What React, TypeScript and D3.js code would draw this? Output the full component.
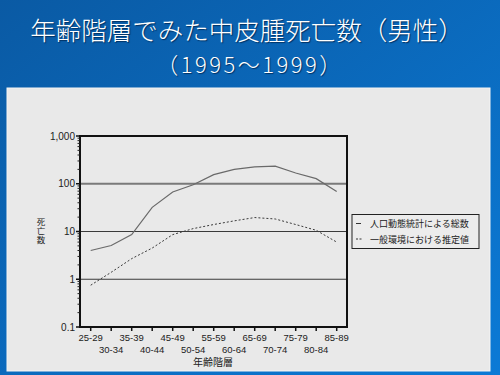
import React from "react";
import * as d3 from "d3";

const categories = ["25-29","30-34","35-39","40-44","45-49","50-54","55-59","60-64","65-69","70-74","75-79","80-84","85-89"];
const totalDeaths = [4.0, 5.1, 8.6, 32, 67, 95, 155, 200, 225, 233, 168, 128, 69];
const estimatedDeaths = [0.75, 1.4, 2.7, 4.5, 8.6, 11.5, 14, 16.7, 19.6, 18.3, 14, 10.6, 6.0];
const yTicks = [0.1, 1, 10, 100, 1000];
const yTickLabels = ["0.1", "1", "10", "100", "1,000"];
const legendLabels = ["人口動態統計による総数", "一般環境における推定値"];
const titleLines = ["年齢階層でみた中皮腫死亡数（男性）", "（1995～1999）"];
const xTitle = "年齢階層";
const yTitle = "死亡数";

const L = 80, R = 347, T = 136, B = 327;
const jp = "'Noto Sans CJK JP', 'Noto Sans', sans-serif";

export default function App() {
  const x = d3.scalePoint<string>().domain(categories).range([90.7, 336.7]);
  const y = d3.scaleLog().domain([0.1, 1000]).range([B, T]);
  const line = d3.line<number>().x((_, i) => x(categories[i])!).y(d => y(d));
  const minor: number[] = [];
  for (let e = -1; e < 3; e++) for (let k = 2; k <= 9; k++) minor.push(k * Math.pow(10, e));

  return (
    <svg width={500} height={375} style={{ position: "absolute", left: 0, top: 0, display: "block" }}>
      <defs>
        <linearGradient id="bg" x1="0" y1="0" x2="1" y2="1">
          <stop offset="0" stopColor="#0a5aa4" />
          <stop offset="1" stopColor="#0b7ad6" />
        </linearGradient>
      </defs>
      <rect x={0} y={0} width={500} height={375} fill="url(#bg)" />
      {titleLines.map((t, i) => (
        <text key={i} x={i === 0 ? 247 : 250} y={i === 0 ? 40 : 73} textAnchor="middle" fill="#ffffff"
          fontFamily={jp} fontSize={i === 0 ? 25.5 : 22} fontWeight={300}
          style={{ textShadow: "1px 1px 1px #003060", letterSpacing: i === 0 ? "0px" : "2.5px" }}>{t}</text>
      ))}
      <rect x={7} y={88} width={483} height={283} fill="#e9e9e9" stroke="#f4f4f4" strokeWidth={1} />

      {/* gridlines */}
      {[1, 10, 100].map(v => (
        <line key={v} x1={L} x2={R} y1={y(v)} y2={y(v)} stroke={v === 100 ? "#7a7a7a" : "#3a3a3a"} strokeWidth={v === 100 ? 2 : 1.2} />
      ))}
      {/* frame */}
      <rect x={L} y={T} width={R - L} height={B - T} fill="none" stroke="#111" strokeWidth={2} />

      {/* y ticks */}
      {minor.map((v, i) => (
        <line key={"m" + i} x1={L - 2.5} x2={L} y1={y(v)} y2={y(v)} stroke="#222" strokeWidth={1} />
      ))}
      {yTicks.map((v, i) => (
        <g key={"y" + i}>
          <line x1={L - 4} x2={L} y1={y(v)} y2={y(v)} stroke="#111" strokeWidth={1.5} />
          <text x={L - 5} y={y(v) + 3.5} textAnchor="end" fontFamily="'Liberation Sans', Arial, sans-serif" fontSize={10} fill="#222">{yTickLabels[i]}</text>
        </g>
      ))}
      {/* y title (vertical) */}
      <text x={41} y={218} fontFamily={jp} fontSize={8.5} fill="#222"
        style={{ writingMode: "vertical-rl", textOrientation: "upright", letterSpacing: "0.5px" }}>{yTitle}</text>

      {/* x ticks */}
      {categories.map((c, i) => (
        <g key={c}>
          <line x1={x(c)} x2={x(c)} y1={B} y2={B + 4} stroke="#111" strokeWidth={1.5} />
          <text x={x(c)} y={i % 2 === 0 ? B + 14 : B + 26} textAnchor="middle" fontFamily="'Liberation Sans', Arial, sans-serif" fontSize={9.5} fill="#222">{c}</text>
        </g>
      ))}
      <text x={213} y={366} textAnchor="middle" fontFamily={jp} fontSize={10} fill="#222">{xTitle}</text>

      {/* series */}
      <path d={line(totalDeaths) || ""} fill="none" stroke="#6a6a6a" strokeWidth={1.2} />
      <path d={line(estimatedDeaths) || ""} fill="none" stroke="#3a3a3a" strokeWidth={1} strokeDasharray="2,2" />

      {/* legend */}
      <rect x={352} y={214.5} width={127} height={34} fill="#ececec" stroke="#222" strokeWidth={1} />
      <line x1={356} x2={361} y1={223.5} y2={223.5} stroke="#333" strokeWidth={1} />
      <line x1={356} x2={358} y1={239} y2={239} stroke="#333" strokeWidth={1} />
      <line x1={359.5} x2={361.5} y1={239} y2={239} stroke="#333" strokeWidth={1} />
      {legendLabels.map((t, i) => (
        <text key={t} x={370} y={227 + i * 15.5} fontFamily={jp} fontSize={9} fill="#222">{t}</text>
      ))}
    </svg>
  );
}
